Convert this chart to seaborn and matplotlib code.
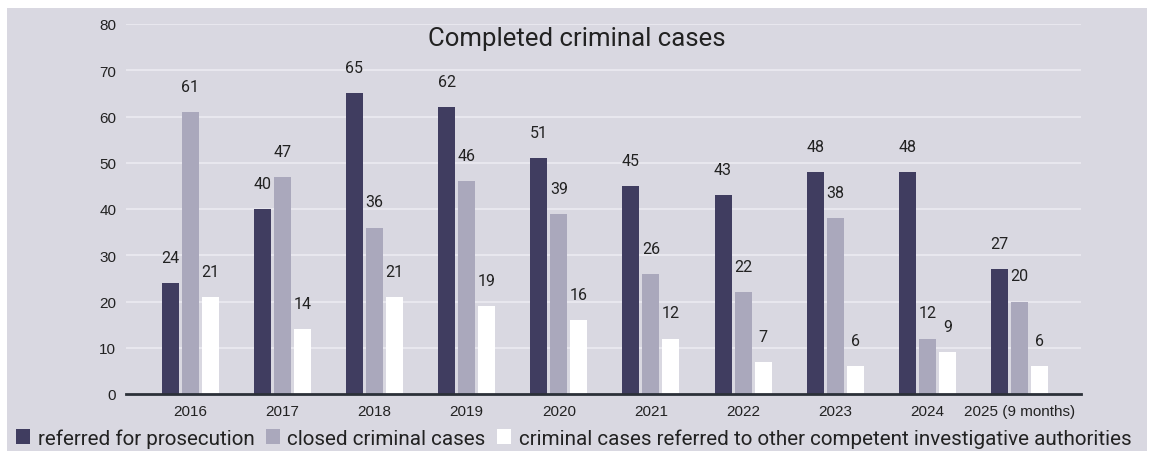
import matplotlib
matplotlib.use("Agg")
import numpy as np
import pandas as pd
import seaborn as sns
import matplotlib.pyplot as plt
from matplotlib.patches import Rectangle, Patch

# ---- data ----
years = ["2016", "2017", "2018", "2019", "2020", "2021", "2022", "2023", "2024", "2025 (9 months)"]
referred = [24, 40, 65, 62, 51, 45, 43, 48, 48, 27]
closed = [61, 47, 36, 46, 39, 26, 22, 38, 12, 20]
other = [21, 14, 21, 19, 16, 12, 7, 6, 9, 6]
series_names = ["referred for prosecution",
                "closed criminal cases",
                "criminal cases referred to other competent investigative authorities"]
y_ticks = [0, 10, 20, 30, 40, 50, 60, 70, 80]
title = "Completed criminal cases"

colors = ["#403d60", "#aaa8bc", "#ffffff"]
BG = "#d9d8e1"
TXT = "#222222"

df = pd.DataFrame({
    "year": years * 3,
    "value": referred + closed + other,
    "series": [series_names[0]] * len(years) + [series_names[1]] * len(years) + [series_names[2]] * len(years),
})

sns.set_theme(style="white")
plt.rcParams['font.family'] = ['Roboto', 'DejaVu Sans']

W, H = 1149, 452
fig = plt.figure(figsize=(W / 100, H / 100), dpi=100, facecolor="white")
fig.patches.append(Rectangle((7 / W, 0), (W - 9) / W, (H - 9) / H, transform=fig.transFigure,
                             facecolor=BG, edgecolor="none", zorder=-10))

ax = fig.add_axes([126 / W, 1 - 395 / H, (1081 - 126) / W, (395 - 25) / H])
ax.set_facecolor("none")

sns.barplot(data=df, x="year", y="value", hue="series", order=years, hue_order=series_names,
            palette=colors, width=0.651, gap=0.15, saturation=1, ax=ax, legend=False,
            linewidth=0, edgecolor="none")

for c in ax.containers:
    ax.bar_label(c, padding=13, fontsize=11.5, color=TXT)

ax.set_xlim(-0.697, 9.668)
ax.set_ylim(0, 80)
ax.set_yticks(y_ticks)
ax.set_yticklabels([str(v) for v in y_ticks])
ax.set_xlabel("")
ax.set_ylabel("")
ax.yaxis.grid(True, color="#e8e7ee", lw=1.5)
ax.set_axisbelow(True)
for s in ["top", "right", "left"]:
    ax.spines[s].set_visible(False)
ax.spines["bottom"].set_color("#2b3038")
ax.spines["bottom"].set_linewidth(2)
ax.spines["bottom"].set_zorder(5)
ax.tick_params(axis="x", length=0, pad=7, labelsize=11, labelcolor=TXT)
ax.tick_params(axis="y", length=0, pad=7, labelsize=11, labelcolor=TXT)
for lab in ax.get_xticklabels() + ax.get_yticklabels():
    lab.set_family(["Liberation Sans", "DejaVu Sans"])

fig.text(577 / W, 1 - 39 / H, title, ha="center", va="center", fontsize=18.5, color=TXT)

handles = [Patch(facecolor=col, edgecolor="none") for col in colors]
fig.legend(handles, series_names, loc="center left", bbox_to_anchor=(16 / W, 1 - 439 / H),
           ncol=3, frameon=False, prop={"family": ["Roboto", "DejaVu Sans"], "size": 14.85},
           handlelength=0.7, handleheight=0.7,
           handletextpad=0.35, columnspacing=0.55, borderaxespad=0, borderpad=0, labelcolor=TXT)

fig.savefig("out.png", dpi=100, facecolor="white")
